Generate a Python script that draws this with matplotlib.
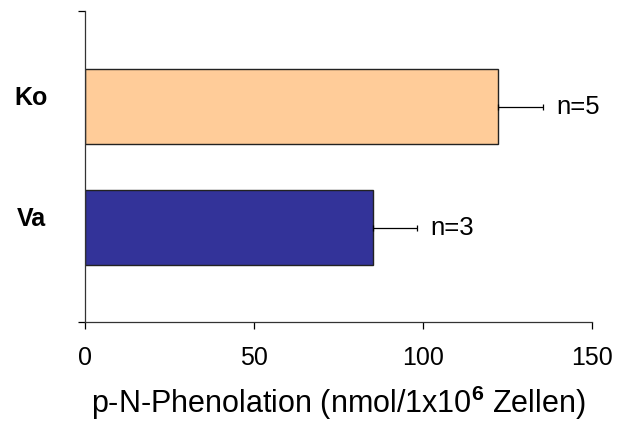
import matplotlib.pyplot as plt

# data
groups = ['Va', 'Ko']
values = [85.3, 122.3]
errors = [12.8, 13.1]
n_labels = ['n=3', 'n=5']
colors = ['#333399', '#FFCC99']
xticks = [0, 50, 100, 150]

plt.rcParams['font.family'] = ['Liberation Sans', 'DejaVu Sans']
plt.rcParams['mathtext.fontset'] = 'custom'
plt.rcParams['mathtext.rm'] = 'Liberation Sans'
plt.rcParams['mathtext.bf'] = 'Liberation Sans:bold'

fig = plt.figure(figsize=(6.24, 4.21), dpi=100)
ax = fig.add_axes([0.1362, 0.2352, 0.8125, 0.7387])

ypos = list(range(len(groups)))
ax.barh(ypos, values, height=0.62, color=colors, edgecolor='#222222', linewidth=1)
ax.errorbar(values, ypos, xerr=[[0] * len(errors), errors], fmt='none',
            ecolor='black', elinewidth=0.9, capsize=2, capthick=0.9)

for y, v, e, lab in zip(ypos, values, errors, n_labels):
    ax.annotate(lab, (v + e, y), xytext=(10, 0), textcoords='offset points',
                ha='left', va='center', fontsize=18.5)

ax.set_xlim(0, 150)
ax.set_ylim(-0.777, 1.793)
ax.set_xticks(xticks)
ax.set_xticklabels([str(t) for t in xticks], fontsize=18)
ax.set_yticks([-0.777, 1.793])
ax.set_yticklabels([])
ax.tick_params(axis='both', direction='out', length=5, width=0.9, colors='black')
ax.tick_params(axis='x', pad=12)

for y, g in zip(ypos, groups):
    ax.text(-0.106, y + 0.07, g, transform=ax.get_yaxis_transform(), ha='center', va='center',
            fontsize=18, fontweight='bold')

ax.spines['top'].set_visible(False)
ax.spines['right'].set_visible(False)
for s in ['left', 'bottom']:
    ax.spines[s].set_linewidth(0.9)
    ax.spines[s].set_color('#333333')

ax.set_xlabel('p-N-Phenolation (nmol/1x10$^{\\mathbf{6}}$ Zellen)', fontsize=22, labelpad=10)

fig.savefig('out.png', dpi=100)
